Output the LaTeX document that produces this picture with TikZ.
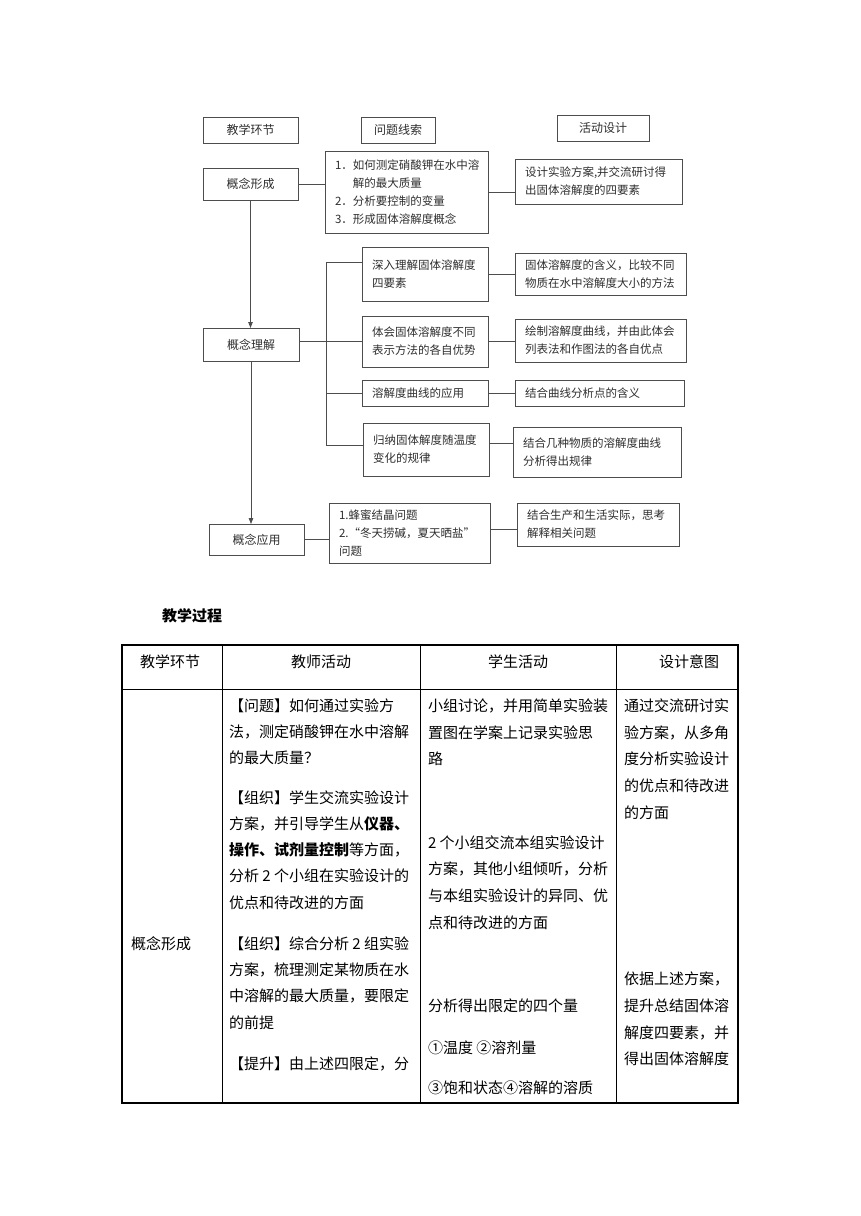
\documentclass[tikz,border=0pt]{standalone}
\usepackage{fontspec}
\setmainfont{Noto Sans CJK SC}
\usetikzlibrary{arrows.meta, positioning}
\definecolor{boxline}{HTML}{4D4D4D}
\definecolor{boxtext}{HTML}{2E2E2E}

\begin{document}
\begin{tikzpicture}[
			x=1pt, y=-1pt,
			every node/.style={inner sep=0pt, outer sep=0pt},
			flow/.style={draw=boxline, line width=.8pt, text=boxtext, font=\fontsize{11.5}{18}\selectfont},
			stage/.style={flow, align=center, font=\fontsize{12}{18}\selectfont},
			clue/.style={flow, align=left, inner xsep=10pt},
			link/.style={draw=boxline, line width=.8pt},
			down/.style={link, -{Triangle[length=6pt,width=4.5pt]}},
			cell/.style={anchor=base west, font=\fontsize{15}{27}\selectfont},
			head/.style={anchor=base, font=\fontsize{15}{27}\selectfont},
			tabline/.style={line width=.8pt},
			tabframe/.style={line width=1.4pt}
			]
			
			\useasboundingbox (0,0) rectangle (860,1216);
			
			% header row of the chart
			\node[stage, minimum width=95pt, minimum height=26pt] (hdstage) at (250.5,130) {教学环节};
			\node[stage, minimum width=74pt, minimum height=26pt] (hdclue) at (398,130) {问题线索};
			\node[stage, minimum width=92pt, minimum height=26pt] (hddesign) at (603,128) {活动设计};
			
			% stages
			\node[stage, minimum width=95pt, minimum height=32pt] (xingcheng) at (250.5,184) {概念形成};
			\node[stage, minimum width=96pt, minimum height=33pt] (lijie) at (251,344.5) {概念理解};
			\node[stage, minimum width=95pt, minimum height=31pt] (yingyong) at (256.5,539.5) {概念应用};
			
			% question clues
			\node[clue, text width=143pt, minimum height=82pt] (q1) at (406.5,192) {1．如何测定硝酸钾在水中溶\\\phantom{1．}解的最大质量\\2．分析要控制的变量\\3．形成固体溶解度概念};
			\node[clue, text width=106pt, minimum height=54pt] (q2) at (425,274) {深入理解固体溶解度\\四要素};
			\node[clue, text width=106pt, minimum height=51pt] (q3) at (425,341.5) {体会固体溶解度不同\\表示方法的各自优势};
			\node[clue, text width=106pt, minimum height=26pt] (q4) at (425,393) {溶解度曲线的应用};
			\node[clue, text width=106pt, minimum height=53pt] (q5) at (426,449.5) {归纳固体解度随温度\\变化的规律};
			\node[clue, text width=141pt, minimum height=60pt] (q6) at (409.5,533) {1.蜂蜜结晶问题\\2.“冬天捞碱，夏天晒盐”\\问题};
			
			% activity design
			\node[clue, text width=147pt, minimum height=45pt] (a1) at (598.5,181.5) {设计实验方案,并交流研讨得\\出固体溶解度的四要素};
			\node[clue, text width=151pt, minimum height=42pt] (a2) at (600.5,274) {固体溶解度的含义，比较不同\\物质在水中溶解度大小的方法};
			\node[clue, text width=151pt, minimum height=43pt] (a3) at (600.5,340.5) {绘制溶解度曲线，并由此体会\\列表法和作图法的各自优点};
			\node[clue, text width=149pt, minimum height=26pt] (a4) at (599.5,393.5) {结合曲线分析点的含义};
			\node[clue, text width=148pt, minimum height=50pt] (a5) at (597,452) {结合几种物质的溶解度曲线\\分析得出规律};
			\node[clue, text width=142pt, minimum height=43pt] (a6) at (598,524.5) {结合生产和生活实际，思考\\解释相关问题};
			
			\coordinate (fork) at (326,262);
			\coordinate (forkend) at (326,445);
			
			\draw[down] (xingcheng.south) -- (xingcheng.south |- lijie.north);
			\draw[down] (lijie.south) -- (lijie.south |- yingyong.north);
			\draw[link] (xingcheng.east) -- (xingcheng.east -| q1.west);
			\draw[link] (fork -| q2.west) -- (fork) -- (forkend) -- (forkend -| q5.west);
			\draw[link] (lijie.east |- q3.west) -- (q3.west);
			\draw[link] (q4.west) -- (q4.west -| fork);
			\draw[link] (yingyong.east) -- (yingyong.east -| q6.west);
			
			\draw[link] (q1.east) -- (q1.east -| a1.west);
			\draw[link] (q2.east) -- (q2.east -| a2.west);
			\draw[link] (q3.east) -- (q3.east -| a3.west);
			\draw[link] (q4.east) -- (q4.east -| a4.west);
			\draw[link] ([yshift=6pt]q5.east) -- ([yshift=6pt]q5.east -| a5.west);
			\draw[link] ([yshift=4pt]q6.east) -- ([yshift=4pt]q6.east -| a6.west);
			
			% teaching process table
			\node[cell, font=\bfseries\fontsize{15}{18}\selectfont] (title) at (162,621) {教学过程};
			
			\draw[tabline] (122,689) -- (738,689);
			\foreach \cx in {222, 420, 616}
				\draw[tabline] (\cx,645) -- (\cx,1103);
			\draw[tabframe] (122,645) rectangle (738,1103);
			
			\node[head] (hstage) at (170,667) {教学环节};
			\node[head] (hteach) at (321,667) {教师活动};
			\node[head] (hstudy) at (518,667) {学生活动};
			\node[head] (hintent) at (689,667) {设计意图};
			
			\node[cell] (stage) at (131,949) {概念形成};
			
			\foreach \yy/\t in {711/【问题】如何通过实验方, 737/法，测定硝酸钾在水中溶解, 763/的最大质量？,
					803/【组织】学生交流实验设计, 829/方案，并引导学生从{\bfseries 仪器、}, 855/{\bfseries 操作、试剂量控制}等方面，,
					881/分析 2 个小组在实验设计的, 908/优点和待改进的方面,
					949/【组织】综合分析 2 组实验, 975/方案，梳理测定某物质在水, 1001/中溶解的最大质量，要限定, 1028/的前提,
					1069/【提升】由上述四限定，分}
				\node[cell] (teach-\yy) at (229,\yy) {\t};
			
			\foreach \yy/\t in {711/小组讨论，并用简单实验装, 738/置图在学案上记录实验思, 764/路,
					848/2 个小组交流本组实验设计, 874/方案，其他小组倾听，分析, 901/与本组实验设计的异同、优, 928/点和待改进的方面,
					1011/分析得出限定的四个量, 1053/①温度 ②溶剂量, 1093/③饱和状态④溶解的溶质}
				\node[cell] (study-\yy) at (428,\yy) {\t};
			
			\foreach \yy/\t in {711/通过交流研讨实, 738/验方案，从多角, 764/度分析实验设计, 791/的优点和待改进, 818/的方面,
					984/依据上述方案，, 1011/提升总结固体溶, 1038/解度四要素，并, 1064/得出固体溶解度}
				\node[cell] (intent-\yy) at (624,\yy) {\t};
			
\end{tikzpicture}
\end{document}
